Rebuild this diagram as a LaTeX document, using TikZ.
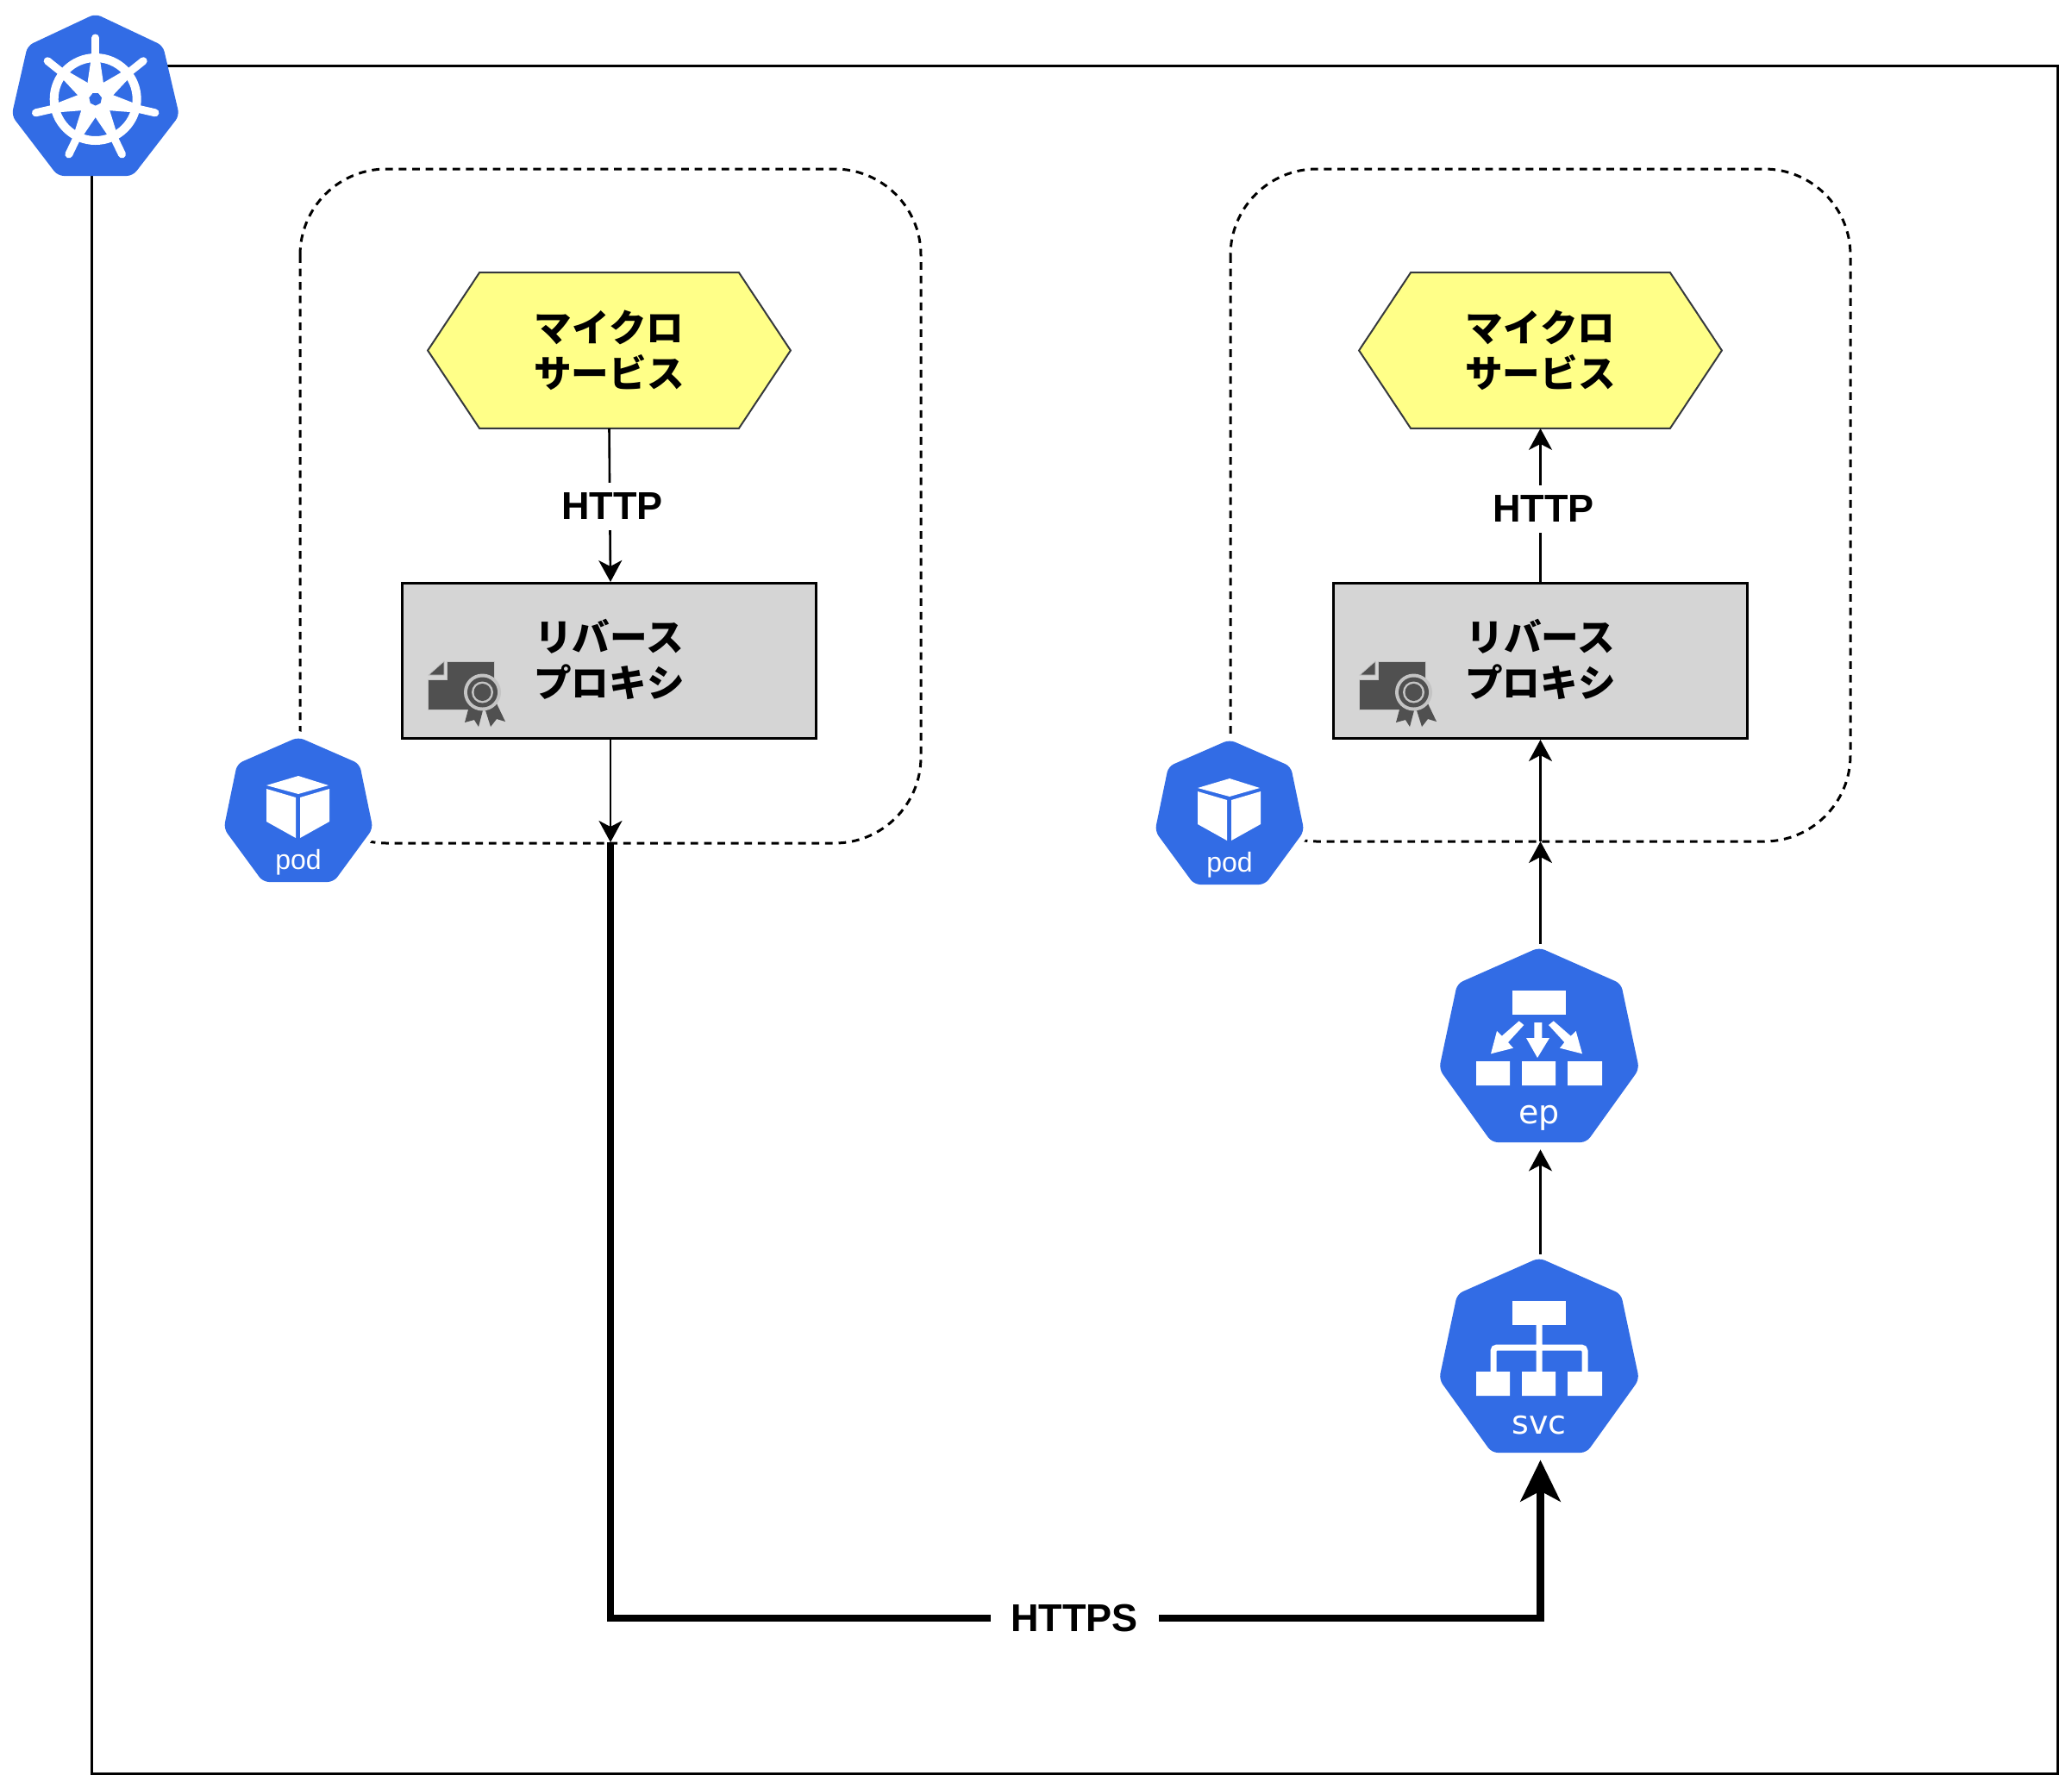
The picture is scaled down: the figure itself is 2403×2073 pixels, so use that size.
\documentclass[tikz,border=0pt]{standalone}
\usepackage{fontspec}
\setmainfont{Liberation Sans}
\newfontfamily\cjkf{Noto Sans CJK JP}
\newfontfamily\djv{DejaVu Sans}
\usetikzlibrary{arrows.meta}
\definecolor{kblue}{HTML}{326CE5}
\definecolor{hexfill}{HTML}{FFFF88}
\definecolor{hexline}{HTML}{36393D}
\definecolor{proxyfill}{HTML}{D5D5D5}
\definecolor{certdark}{HTML}{505050}
\definecolor{certlight}{HTML}{C4C4C4}
\tikzset{
  frameline/.style={draw=black,line width=1.5pt},
  podzone/.style={draw=black,line width=1.5pt,dash pattern=on 4.4pt off 3.4pt,rounded corners=50pt},
  cjklabel/.style={inner sep=0pt,align=center,font=\cjkf\bfseries\fontsize{21.8}{26.5}\selectfont},
  msbox/.style={minimum width=210pt,minimum height=90pt,inner sep=0pt},
  proxybox/.style={draw=black,line width=1.5pt,fill=proxyfill,minimum width=240pt,minimum height=90pt,inner sep=0pt},
  httplabel/.style={fill=white,inner xsep=3pt,inner ysep=0pt,minimum height=27.5pt,
    font=\bfseries\fontsize{22.5}{26}\selectfont},
  iconbox/.style={minimum width=120pt,minimum height=119pt,inner sep=0pt},
  podbox/.style={minimum width=86pt,minimum height=85pt,inner sep=0pt},
  thin conn/.style={draw=black,line width=1.3pt,-{Stealth[length=12.5pt,width=13.5pt,inset=3.5pt]}},
  thick conn/.style={draw=black,line width=4.4pt,-{Stealth[length=24pt,width=23pt,inset=6pt]}},
  kfill/.style={fill=kblue,rounded corners=3.5pt},
  podtext/.style={text=white,font=\fontsize{16}{18}\selectfont,inner sep=0pt,anchor=base},
  kubetext/.style={text=white,font=\djv\fontsize{19}{21}\selectfont,inner sep=0pt,anchor=base},
}
\newcommand{\hexshape}[1]{%
  \path[draw=hexline,line width=1pt,fill=hexfill]
    (#1.west) -- ([xshift=30pt]#1.north west) -- ([xshift=-30pt]#1.north east) -- (#1.east)
    -- ([xshift=-30pt]#1.south east) -- ([xshift=30pt]#1.south west) -- cycle;}
\newcommand{\kubepod}[2]{%
  \begin{scope}[shift={(#1,#2)}]
    \path[draw=white,line width=7pt,line join=round,fill=white]
      (0,-2)--(71,29)--(86.5,104)--(41,166)--(-41,166)--(-86.5,104)--(-71,29)--cycle;
    \path[kfill]
      (0,-2)--(71,29)--(86.5,104)--(41,166)--(-41,166)--(-86.5,104)--(-71,29)--cycle;
    \fill[white] (0,43)--(35,54)--(0,64)--(-37,54)--cycle;
    \fill[white] (-37,58)--(-3,68)--(-3,115)--(-37,96)--cycle;
    \fill[white] (2,68)--(36,58)--(36,96)--(2,115)--cycle;
  \end{scope}}
\newcommand{\kubeshell}[2]{%
  \path[kfill,shift={(#1,#2)}]
    (0,-2)--(95,40)--(116,139)--(55,224)--(-55,224)--(-116,139)--(-95,40)--cycle;}
\newcommand{\threebottom}[1]{%
  \fill[white] (1712,#1) rectangle ++(39,28) (1765,#1) rectangle ++(39,28) (1818,#1) rectangle ++(40,28);}
\newcommand{\certicon}[1]{%
  \begin{scope}[shift={(#1,0)}]
    \path[fill=certdark,draw=certlight,line width=.4pt]
      (518,767)--(573,767)--(573,823)--(496,823)--(496,788)--(518,788)--cycle;
    \path[fill=certdark,draw=certlight,line width=.4pt] (515,767)--(515,783)--(497,783)--cycle;
    \fill[certdark] (546,812)--(539,838)--(550,835)--(555,843)--(560,824)--(563,824)--(569,843)--(576,834)--(586,837)--(574,812)--cycle;
    \fill[certlight] (559.5,803) circle[radius=21.5];
    \fill[certdark] (559.5,803) circle[radius=17.5];
    \fill[certlight] (559.5,803) circle[radius=12.5];
    \fill[certdark] (559.5,803) circle[radius=10];
  \end{scope}}
\begin{document}
\begin{tikzpicture}[x=0.5pt,y=-0.5pt]
\useasboundingbox (0,0) rectangle (2403,2073);
\fill[white] (0,0) rectangle (2403,2073);

% cluster frame
\draw[frameline] (106,76) rectangle (2386,2057);

% pod zones
\draw[podzone] (348,196) rectangle (1068,978);
\draw[podzone] (1427,196) rectangle (2146,976);

% microservices
\node[msbox] (ms1) at (706.5,406.5) {};
\node[msbox] (ms2) at (1786.5,406.5) {};
\hexshape{ms1}
\hexshape{ms2}
\node[cjklabel] (mstext1) at (ms1) {マイクロ\\サービス};
\node[cjklabel] (mstext2) at (ms2) {マイクロ\\サービス};

% proxies
\node[proxybox] (proxy1) at (706.5,766.5) {};
\node[proxybox] (proxy2) at (1786.5,766.5) {};
\node[cjklabel] (proxytext1) at ([yshift=1pt]proxy1.center) {リバース\\プロキシ};
\node[cjklabel] (proxytext2) at ([yshift=1pt]proxy2.center) {リバース\\プロキシ};
\certicon{0}
\certicon{1080}

% pods
\kubepod{346}{857}
\kubepod{1426}{860}
\node[podbox] (pod1) at (346,940) {};
\node[podbox] (pod2) at (1426,943) {};
\node[podtext] (podlabel1) at (346,1008) {pod};
\node[podtext] (podlabel2) at (1426,1011) {pod};

% ep and svc icons
\kubeshell{1785}{1101}
\kubeshell{1785}{1461}
\fill[white] (1754,1149) rectangle (1816,1177);
\threebottom{1231}
\fill[white] (1779.3,1186)--(1788.3,1186)--(1788.3,1204)--(1797,1204)--(1783,1227)--(1770,1204)--(1779.3,1204)--cycle;
\fill[white] (1761.7,1184.3)--(1767.3,1189)--(1749,1209)--(1755,1215.7)--(1729,1222.3)--(1736,1196)--(1741.7,1201.7)--cycle;
\fill[white] (1801.7,1184.3)--(1796,1189)--(1814.3,1209)--(1809,1215.7)--(1835,1222.3)--(1827.7,1196)--(1821.7,1201.7)--cycle;
\node[kubetext] (eplabel) at (1785,1303) {ep};
\fill[white] (1754,1509) rectangle (1816,1537);
\threebottom{1591}
\draw[white,line width=3.5pt,rounded corners=2pt] (1785,1537)--(1785,1591) (1732,1591)--(1732,1563)--(1838,1563)--(1838,1591);
\node[kubetext] (svclabel) at (1785,1663) {svc};
\node[iconbox] (ep) at (1786.5,1214) {};
\node[iconbox] (svc) at (1786.5,1574) {};

% kubernetes logo
\path[kfill] (110.7,16)--(189,53)--(208,134)--(154,204)--(67,204)--(13.5,134)--(32,53)--cycle;
\begin{scope}[shift={(110.7,115)}]
  \draw[white,line width=5pt] (0,0) circle[radius=48];
  \fill[white] (0,0) circle[radius=20];
  \foreach \a in {90,141.43,192.86,244.29,295.71,347.14,38.57}{
    \begin{scope}[rotate=\a]
      \fill[white] (0,-12)--(44,-5.5)--(44,5.5)--(0,12)--cycle;
      \draw[white,line width=4.5pt,line cap=round] (46,0)--(71,0);
    \end{scope}}
  \fill[kblue] (90:7.5)--(141.43:7.5)--(192.86:7.5)--(244.29:7.5)--(295.71:7.5)--(347.14:7.5)--(38.57:7.5)--cycle;
\end{scope}

% connectors
\coordinate (j1) at (708,977);
\coordinate (j2) at (1786.5,976);
\coordinate (b1) at (708,1877);
\coordinate (b2) at (1786.5,1877);

\draw[thin conn] (ms1.south) -- ([xshift=.75pt]proxy1.north);
\node[httplabel] (http1) at (710,587) {HTTP};
\draw[thin conn] ([xshift=.75pt]proxy1.south) -- (j1);

\draw[thick conn] (j1) -- (b1) -- (b2) -- (svc.south);
\node[fill=white,inner xsep=0pt,inner ysep=0pt,minimum width=97.5pt,minimum height=27.5pt,
  font=\bfseries\fontsize{22.5}{26}\selectfont] (https) at (1246,1877) {HTTPS};

\draw[thin conn] (svc.north) -- (ep.south);
\draw[thin conn] (ep.north) -- (j2);
\draw[thin conn] (j2) -- (proxy2.south);
\draw[thin conn] (proxy2.north) -- (ms2.south);
\node[httplabel] (http2) at (1790,590) {HTTP};
\end{tikzpicture}
\end{document}
